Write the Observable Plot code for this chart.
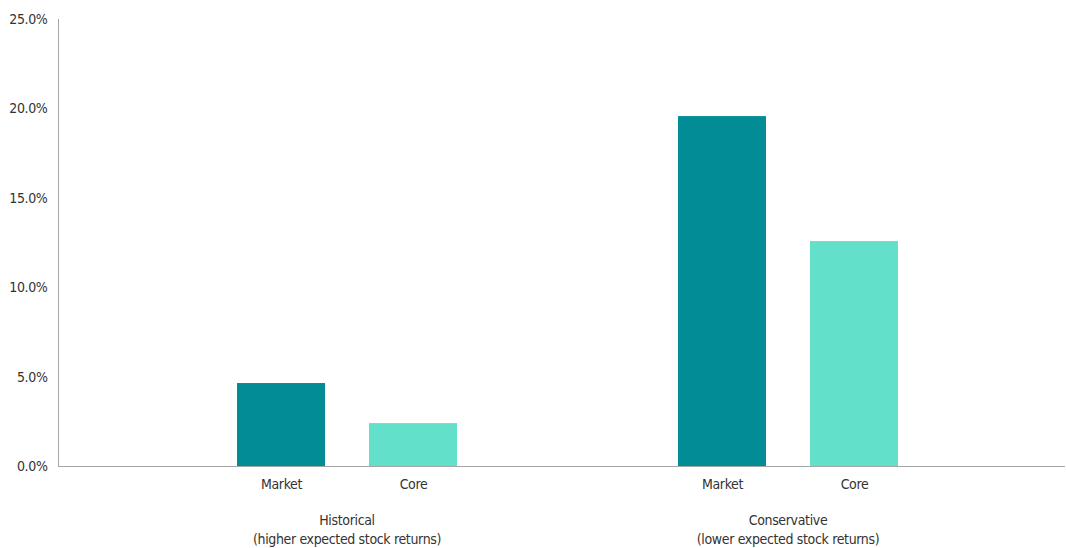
<!DOCTYPE html>
<html><head><meta charset="utf-8">
<script src="https://cdn.jsdelivr.net/npm/d3@7"></script>
<script src="https://cdn.jsdelivr.net/npm/@observablehq/plot@0.6"></script>
<style>body{margin:0;background:#fff;overflow:hidden}</style>
</head><body><div id="chart"></div>
<script>
const scenarios = ["Historical", "Conservative"];
const scenarioNotes = ["(higher expected stock returns)", "(lower expected stock returns)"];
const series = ["Market", "Core"];
const marketValues = [4.64, 19.57];
const coreValues = [2.40, 12.58];
const yTicks = [0, 5, 10, 15, 20, 25];
const colors = ["#028c95", "#62e0ca"];

const data = scenarios.flatMap((s, i) => [
  {scenario: s, series: "Market", value: marketValues[i]},
  {scenario: s, series: "Core", value: coreValues[i]}
]);

const plot = Plot.plot({
  width: 1066, height: 548,
  marginLeft: 58, marginRight: 0, marginTop: 19, marginBottom: 82,
  style: {fontFamily: "'DejaVu Sans Condensed', sans-serif", fontSize: "14px", letterSpacing: "-0.35px", color: "#333", background: "#fff"},
  fx: {domain: scenarios, paddingInner: 0, paddingOuter: 0.1416, align: 0, label: null},
  x: {domain: series, paddingInner: 0.331, paddingOuter: 0.825, align: 0.811, label: null},
  y: {domain: [0, 25], label: null},
  color: {domain: series, range: colors},
  marks: [
    Plot.barY(data, {fx: "scenario", x: "series", y: "value", fill: "series"}),
    Plot.frame({anchor: "left", facet: "super", stroke: "#a6a6a6"}),
    Plot.ruleY([0], {stroke: "#a6a6a6", insetRight: -125}),
    Plot.axisY({ticks: yTicks, tickSize: 0, tickPadding: 11, tickFormat: d => d.toFixed(1) + "%", label: null}),
    Plot.axisX({tickSize: 0, tickPadding: 13, label: null}),
    Plot.axisFx({anchor: "bottom", tickSize: 0, tickPadding: 46, dx: 68, label: null, lineHeight: 1.3,
      tickFormat: d => d + "\n" + scenarioNotes[scenarios.indexOf(d)]})
  ]
});
document.getElementById("chart").appendChild(plot);
</script>
</body></html>
